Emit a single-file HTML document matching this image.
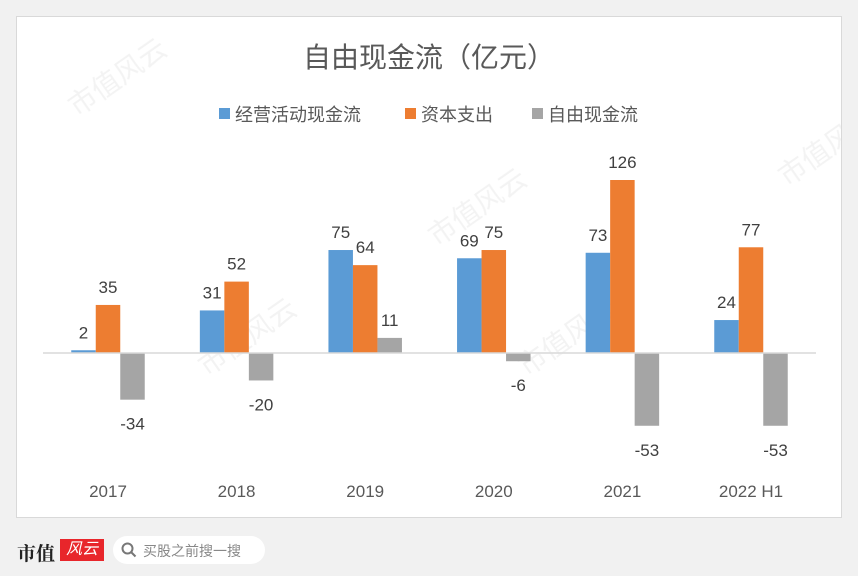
<!DOCTYPE html>
<html><head><meta charset="utf-8"><style>
html,body{margin:0;padding:0;width:858px;height:576px;overflow:hidden;background:#f1f1f1;font-family:"Liberation Sans","Noto Sans CJK SC",sans-serif}
#panel{position:absolute;left:16px;top:16px;width:824px;height:500px;background:#fff;border:1px solid #d9d9d9}
#bottom{position:absolute;left:0;top:530px;width:858px;height:46px}
</style></head><body>
<div id="panel">
<svg id="chart" width="824" height="500" style="position:absolute;left:0;top:0">
<g fill="#ececec" font-size="28" opacity="0.6">
<text transform="translate(60,100) rotate(-35)">市值风云</text>
<text transform="translate(420,230) rotate(-35)">市值风云</text>
<text transform="translate(190,360) rotate(-35)">市值风云</text>
<text transform="translate(510,360) rotate(-35)">市值风云</text>
<text transform="translate(770,170) rotate(-35)">市值风云</text>
</g>
<text x="412" y="50" text-anchor="middle" font-size="28" fill="#595959">自由现金流（亿元）</text>
<g font-size="18" fill="#595959">
<g><rect x="202" y="91" width="11" height="11" fill="#5b9bd5"/><text x="218" y="104">经营活动现金流</text></g>
<g><rect x="388" y="91" width="11" height="11" fill="#ed7d31"/><text x="404" y="104">资本支出</text></g>
<g><rect x="515" y="91" width="11" height="11" fill="#a5a5a5"/><text x="531" y="104">自由现金流</text></g>
</g>
<g id="plot"></g>
</svg>
</div>
<div id="bottom">
<span style="position:absolute;left:17px;top:9px;font-size:19px;font-weight:bold;color:#222;font-family:'Liberation Serif','Noto Serif CJK SC',serif">市值</span>
<span style="position:absolute;left:60px;top:9px;width:44px;height:22px;background:#e8262b;color:#fff;font-size:16px;line-height:22px;text-align:center;font-style:italic">风云</span>
<div style="position:absolute;left:113px;top:6px;width:152px;height:28px;background:#fff;border-radius:14px">
<svg width="16" height="16" style="position:absolute;left:8px;top:6px"><circle cx="6.5" cy="6.5" r="5" fill="none" stroke="#777" stroke-width="2"/><line x1="10" y1="10" x2="14.5" y2="14.5" stroke="#777" stroke-width="2"/></svg>
<span style="position:absolute;left:30px;top:5px;font-size:14px;color:#888">买股之前搜一搜</span>
</div>
</div>
<script>
const categories=["2017","2018","2019","2020","2021","2022 H1"];
const operatingCF=[2,31,75,69,73,24];
const capex=[35,52,64,75,126,77];
const freeCF=[-34,-20,11,-6,-53,-53];
const NS="http://www.w3.org/2000/svg";
const plot=document.getElementById('plot');
const ox=16,oy=16;
const zeroY=352-oy, pxPer=1.373;
function y(v){return zeroY - v*pxPer;}
function xc(i){return 107-ox + i*128.6;}
const bw=24.5;
function mk(tag,attrs){const e=document.createElementNS(NS,tag);for(const k in attrs)e.setAttribute(k,attrs[k]);plot.appendChild(e);return e;}
const series=[{d:operatingCF,c:"#5b9bd5",off:-1.5,n:"operating"},{d:capex,c:"#ed7d31",off:-0.5,n:"capex"},{d:freeCF,c:"#a5a5a5",off:0.5,n:"fcf"}];
series.forEach(s=>{
 s.d.forEach((v,i)=>{
  const x=xc(i)+s.off*bw;
  const r=mk('rect',{x:x,y:Math.min(y(v),zeroY),width:bw,height:Math.abs(y(v)-zeroY),fill:s.c});
  
  
  const t=mk('text',{x:x+bw/2,y:v>=0?y(v)-12:y(v)+30,'text-anchor':'middle','font-size':17,fill:'#404040'});
  t.textContent=v;
  
  
 });
});
const ax=mk('line',{x1:42-ox,x2:815-ox,y1:zeroY,y2:zeroY,stroke:'#d9d9d9','stroke-width':1.5});


categories.forEach((c,i)=>{
 const t=mk('text',{x:xc(i),y:496-oy,'text-anchor':'middle','font-size':17,fill:'#595959'});
 t.textContent=c;
 
 
});
</script>
</body></html>
